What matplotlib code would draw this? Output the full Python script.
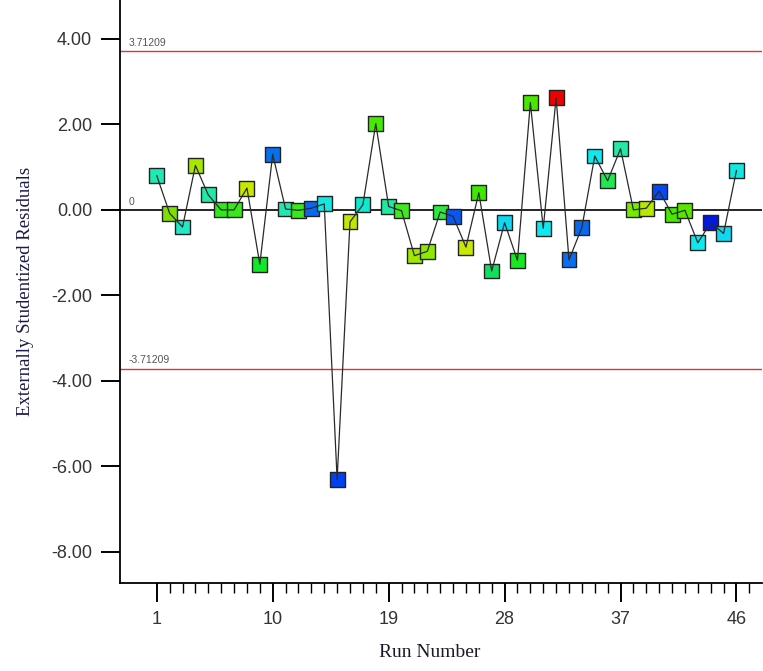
import numpy as np
import matplotlib
matplotlib.use('Agg')
from matplotlib import pyplot as plt

# residuals by run order
runs = list(range(1, 47))
resid = [0.80, -0.08, -0.40, 1.04, 0.35, 0.00, 0.00, 0.51, -1.27, 1.30,
         0.02, -0.01, 0.04, 0.14, -6.30, -0.28, 0.12, 2.02, 0.08, -0.02,
         -1.07, -0.97, -0.05, -0.15, -0.87, 0.40, -1.43, -0.30, -1.18, 2.51,
         -0.43, 2.62, -1.17, -0.41, 1.26, 0.68, 1.43, 0.00, 0.04, 0.44,
         -0.10, -0.01, -0.77, -0.30, -0.55, 0.92]
colors = ['#22e8b4', '#7fe000', '#22e8c4', '#a8e800', '#22e8a8', '#30e818', '#38e818', '#c8e800', '#10e828', '#0870f0',
          '#22e8b0', '#38e818', '#0868f0', '#10e8e0', '#0040f0', '#c0e800', '#10e8d0', '#48e800', '#22e8a0', '#40e820',
          '#a0e800', '#90e800', '#30e840', '#0858f0', '#c8e800', '#40e800', '#10e060', '#10d8f0', '#18e820', '#48e800',
          '#10e8f0', '#f00000', '#0870f0', '#0868f0', '#10e8f0', '#20e850', '#22e8a8', '#78e800', '#b8e800', '#0848f0',
          '#48e800', '#58e800', '#10e8f0', '#0018e8', '#10d8f0', '#10e8e0']
limit = 3.71209
xticks = [1, 10, 19, 28, 37, 46]
yticks = [4, 2, 0, -2, -4, -6, -8]

fig = plt.figure(figsize=(7.63, 6.71), dpi=100)
ax = fig.add_axes([0.157, 0.131, 0.842, 0.869])

ax.plot(runs, resid, color='#2a2a2a', lw=0.9, zorder=4)
ax.scatter(runs, resid, s=115, marker='s', c=colors, edgecolors='#222222', linewidths=1.0, zorder=3)

ax.axhline(0, color='black', lw=1.2, zorder=2)
ax.axhline(limit, color='#e83030', lw=1.0, zorder=2)
ax.axhline(-limit, color='#e83030', lw=1.0, zorder=2)
ax.text(-1.2, limit + 0.12, '3.71209', fontsize=7.5, color='#555555', family='Liberation Sans')
ax.text(-1.2, -limit + 0.12, '-3.71209', fontsize=7.5, color='#555555', family='Liberation Sans')
ax.text(-1.2, 0.12, '0', fontsize=7.5, color='#555555', family='Liberation Sans')

ax.set_xlim(-1.87, 48.0)
ax.set_ylim(-8.73, 4.91)
ax.set_xticks(xticks)
ax.set_xticks(range(1, 48), minor=True)
ax.set_yticks(yticks)
ax.set_yticklabels(['%.2f' % v for v in yticks])
ax.tick_params(axis='both', which='major', direction='out', length=14, width=1.4, labelsize=13, pad=6)
ax.tick_params(axis='x', which='minor', direction='out', length=7, width=1.0)
for lab in ax.get_xticklabels() + ax.get_yticklabels():
    lab.set_family('Liberation Sans')
    lab.set_color('#333333')

ax.spines['top'].set_visible(False)
ax.spines['right'].set_visible(False)
ax.spines['left'].set_linewidth(1.3)
ax.spines['bottom'].set_linewidth(1.3)

ax.set_xlabel('Run Number', family='Liberation Serif', fontsize=14, color='#1a1a2a', labelpad=14)
ax.xaxis.set_label_coords(0.483, -0.105)
ax.set_ylabel('Externally Studentized Residuals', family='Liberation Serif', fontsize=13.5, color='#1a1a4a', labelpad=12)

plt.savefig('out.png', dpi=100)
